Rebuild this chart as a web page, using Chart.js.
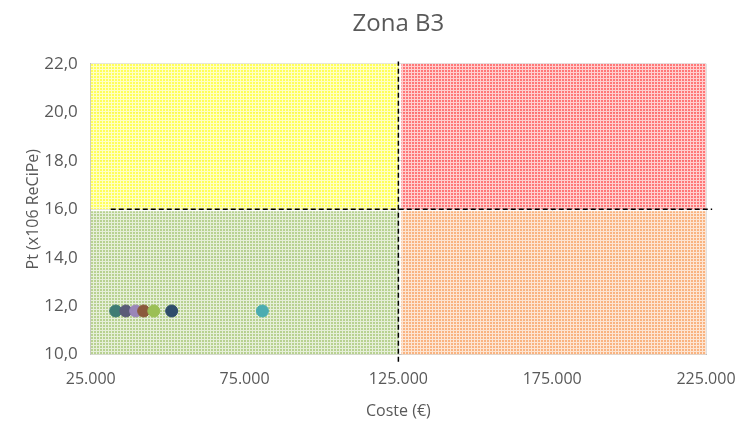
<!DOCTYPE html>
<html>
<head>
<meta charset="utf-8">
<script src="https://cdn.jsdelivr.net/npm/chart.js@4/dist/chart.umd.min.js"></script>
<style>
  html, body { margin: 0; padding: 0; background: #fff; }
  #wrap { width: 739px; height: 424px; }
</style>
</head>
<body>
<div id="wrap"><canvas id="chart"></canvas></div>
<script>
// puntos (coste, Pt)
const costes = [33100, 36400, 39600, 42200, 45500, 51300, 80800];
const pts = [11.8, 11.8, 11.8, 11.8, 11.8, 11.8, 11.8];
const pointColors = ['#3f7c74', '#5b5b78', '#9a86b8', '#8b5a3c', '#9bbf55', '#2f4d6a', '#4aacb0'];

// zonas
const zoneX0 = [25000, 125000, 25000, 125000];
const zoneX1 = [125000, 225000, 125000, 225000];
const zoneY0 = [16, 16, 10, 10];
const zoneY1 = [22, 22, 16, 16];
const zoneColors = ['#ffff30', '#ff5555', '#a6c676', '#f7a060'];

// límites (líneas discontinuas)
const limX = 125000;
const limY = 16;
const vLineY = [9.7, 22.1];
const hLineX = [31500, 227000];

const xTicks = [25000, 75000, 125000, 175000, 225000];

function makePattern(color) {
    const c = document.createElement('canvas');
    c.width = 3; c.height = 3;
    const g = c.getContext('2d');
    g.fillStyle = color;
    g.globalAlpha = 0.8;
    g.fillRect(0, 0, 3, 3);
    g.globalAlpha = 1;
    g.fillStyle = 'rgba(255,255,255,0.65)';
    g.fillRect(0, 0, 3, 1);
    g.fillRect(0, 1, 1, 2);
    return document.getElementById('chart').getContext('2d').createPattern(c, 'repeat');
}

const zonesPlugin = {
    id: 'zones',
    beforeDatasetsDraw(chart) {
        const ctx = chart.ctx;
        const xs = chart.scales.x, ys = chart.scales.y;
        ctx.save();
        for (let i = 0; i < zoneX0.length; i++) {
            const x0 = xs.getPixelForValue(zoneX0[i]);
            const x1 = xs.getPixelForValue(zoneX1[i]);
            const y0 = ys.getPixelForValue(zoneY1[i]);
            const y1 = ys.getPixelForValue(zoneY0[i]);
            ctx.fillStyle = makePattern(zoneColors[i]);
            ctx.fillRect(x0 + (i % 2 ? 3 : 0), y0 + (i > 1 ? 2 : 0), x1 - x0 - (i % 2 ? 3 : 0), y1 - y0 - (i > 1 ? 2 : 0));
        }
        ctx.restore();
    }
};

const fmtMiles = v => v.toLocaleString('de-DE');

new Chart(document.getElementById('chart'), {
    type: 'scatter',
    data: {
        datasets: [
            {
                label: 'Opciones',
                data: costes.map((c, i) => ({ x: c, y: pts[i] })),
                backgroundColor: pointColors,
                borderColor: pointColors,
                pointRadius: 6,
                pointHoverRadius: 6,
                order: 1
            },
            {
                label: 'Límite coste',
                data: vLineY.map(y => ({ x: limX, y: y })),
                showLine: true,
                borderColor: '#000',
                borderWidth: 1.5,
                borderDash: [5, 3],
                pointRadius: 0,
                clip: false,
                order: 0
            },
            {
                label: 'Límite Pt',
                data: hLineX.map(x => ({ x: x, y: limY })),
                showLine: true,
                borderColor: '#000',
                borderWidth: 1.5,
                borderDash: [5, 3],
                pointRadius: 0,
                clip: false,
                order: 0
            }
        ]
    },
    options: {
        responsive: true,
        maintainAspectRatio: false,
        animation: false,
        layout: { padding: { left: 2, right: 33, top: 6, bottom: 3 } },
        plugins: {
            legend: { display: false },
            tooltip: { enabled: false },
            title: {
                display: true,
                fullSize: false,
                text: 'Zona B3',
                color: '#595959',
                font: { family: '"Open Sans", sans-serif', size: 24, weight: 'normal' },
                padding: { top: 4, bottom: 25 }
            }
        },
        scales: {
            x: {
                type: 'linear',
                min: 25000,
                max: 225000,
                afterBuildTicks: axis => { axis.ticks = xTicks.map(v => ({ value: v })); },
                afterFit: axis => { axis.paddingLeft = 0; axis.paddingRight = 0; },
                ticks: {
                    color: '#595959',
                    font: { family: '"Open Sans", sans-serif', size: 16 },
                    padding: 15,
                    maxRotation: 0,
                    callback: v => fmtMiles(v)
                },
                grid: { color: '#e0e0e0', drawTicks: false },
                border: { color: '#bfbfbf' },
                title: {
                    display: true,
                    text: 'Coste (€)',
                    color: '#595959',
                    font: { family: '"Open Sans", sans-serif', size: 16 },
                    padding: { top: -2, bottom: 0 }
                }
            },
            y: {
                min: 10,
                max: 22,
                ticks: {
                    stepSize: 2,
                    color: '#595959',
                    font: { family: '"Open Sans", sans-serif', size: 17 },
                    padding: 13,
                    callback: v => v.toFixed(1).replace('.', ',')
                },
                grid: { color: '#e0e0e0', drawTicks: false },
                border: { color: '#bfbfbf' },
                title: {
                    display: true,
                    text: 'Pt (x106 ReCiPe)',
                    color: '#595959',
                    font: { family: '"Open Sans", sans-serif', size: 16 },
                    padding: { top: 22, bottom: -12 }
                }
            }
        }
    },
    plugins: [zonesPlugin]
});
</script>
</body>
</html>
